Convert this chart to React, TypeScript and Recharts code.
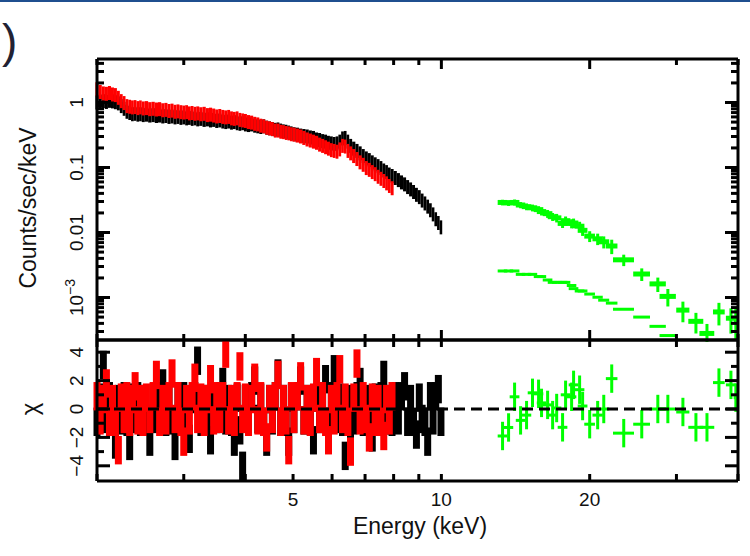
import React from "react";
import { ComposedChart, Scatter, XAxis, YAxis, ErrorBar, ReferenceLine } from "recharts";

const FONT = '"Liberation Sans", Arial, Helvetica, sans-serif';

// energy grid (keV) shared by the two soft-band cameras
const softEnergy = [
  2.0, 2.03, 2.06, 2.09, 2.12, 2.15, 2.18, 2.21, 2.24, 2.27, 2.3, 2.33, 2.36, 2.39, 2.42, 2.45, 2.48,
  2.52, 2.56, 2.6, 2.64, 2.68, 2.72, 2.76, 2.8, 2.84, 2.88, 2.92, 2.96, 3.0, 3.04, 3.08, 3.12, 3.16, 3.2,
  3.25, 3.3, 3.35, 3.4, 3.45, 3.5, 3.55, 3.6, 3.65, 3.7, 3.75, 3.8, 3.85, 3.9, 3.95, 4.0,
  4.06, 4.12, 4.18, 4.24, 4.3, 4.36, 4.42, 4.48, 4.54, 4.6, 4.66, 4.72, 4.78, 4.84, 4.9, 4.96, 5.02,
  5.1, 5.18, 5.26, 5.34, 5.42, 5.5, 5.58, 5.66, 5.74, 5.82, 5.9, 5.98, 6.06, 6.14, 6.22, 6.3, 6.38, 6.46, 6.54,
  6.64, 6.74, 6.84, 6.94, 7.04, 7.14, 7.24, 7.34, 7.44, 7.54, 7.64, 7.74, 7.84, 7.94,
  8.06, 8.18, 8.3, 8.42, 8.54, 8.66, 8.78, 8.9, 9.02, 9.14, 9.26, 9.38, 9.5, 9.62, 9.74, 9.86, 9.98,
];

// black spectrum, counts/sec/keV
const pnCounts = [
  1.0, 1.03, 1.05, 1.02, 1.06, 1.04, 1.01, 0.97, 0.88, 0.8, 0.72, 0.69, 0.66, 0.67, 0.65, 0.66, 0.64,
  0.65, 0.63, 0.64, 0.62, 0.63, 0.61, 0.62, 0.6, 0.61, 0.59, 0.6, 0.58, 0.59, 0.57, 0.58, 0.56, 0.57, 0.55,
  0.56, 0.54, 0.55, 0.53, 0.54, 0.52, 0.53, 0.51, 0.5, 0.51, 0.49, 0.5, 0.48, 0.47, 0.48, 0.46,
  0.45, 0.46, 0.44, 0.43, 0.42, 0.43, 0.41, 0.4, 0.39, 0.38, 0.385, 0.37, 0.36, 0.355, 0.345, 0.335, 0.325,
  0.32, 0.31, 0.305, 0.3, 0.29, 0.285, 0.27, 0.265, 0.255, 0.25, 0.24, 0.235, 0.23, 0.235, 0.25, 0.28, 0.285, 0.25, 0.215,
  0.195, 0.18, 0.165, 0.15, 0.138, 0.13, 0.12, 0.112, 0.105, 0.098, 0.09, 0.085, 0.078, 0.074,
  0.069, 0.064, 0.059, 0.055, 0.05, 0.046, 0.042, 0.038, 0.035, 0.031, 0.028, 0.025, 0.022, 0.019, 0.016, 0.014, 0.012,
];
const pnChi = [
  -0.9, 0.8, 3.1, -0.7, 0.9, -0.9, -2.5, 0.7, -0.8, 0.9, -0.9, -2.6, 0.8, -0.7, 0.9, -0.9, 0.7,
  -0.9, -2.3, 0.8, -0.7, 0.9, 1.8, -0.9, 0.7, -0.8, -2.6, 0.9, -0.7, 0.9, -0.9, -2.1, 0.7, 0.9, 3.4,
  -0.9, 0.7, -0.9, -2.2, 0.8, -0.7, 0.9, 1.9, -0.8, 0.7, -0.9, -2.3, 0.8, -1.5, -4.0, 0.7,
  -0.9, 0.9, 2.0, -0.7, 0.8, -0.9, -2.3, 0.7, -0.8, 0.9, 2.5, -0.9, 0.7, -0.9, -2.3, 0.8, -0.7,
  0.9, 2.0, -0.8, 0.7, -0.9, -2.2, 0.8, -0.7, 0.9, 2.1, -0.9, 0.9, 2.8, -0.7, 0.8, -0.9, -3.3, 0.7, -2.6,
  -0.8, 0.9, 1.9, -0.9, 0.7, -0.9, -2.0, 0.8, -0.7, 0.9, 2.4, -0.8, 0.7, -0.9,
  0.9, -0.8, 0.9, 1.6, -0.9, 0.7, -0.9, -1.8, 0.8, -0.7, -0.9, -2.3, 0.9, -0.8, 0.9, 1.4, -0.9,
];

// red spectrum (stops near 8 keV)
const mosCounts = [
  1.6, 1.45, 1.38, 1.36, 1.4, 1.33, 1.3, 1.18, 1.05, 0.98, 0.88, 0.86, 0.84, 0.85, 0.82, 0.84, 0.81,
  0.82, 0.79, 0.8, 0.78, 0.79, 0.76, 0.77, 0.74, 0.75, 0.72, 0.73, 0.71, 0.7, 0.71, 0.68, 0.69, 0.67, 0.68,
  0.66, 0.67, 0.64, 0.65, 0.63, 0.61, 0.62, 0.6, 0.59, 0.6, 0.57, 0.56, 0.57, 0.54, 0.53, 0.52,
  0.5, 0.49, 0.47, 0.46, 0.44, 0.43, 0.41, 0.4, 0.39, 0.37, 0.37, 0.355, 0.35, 0.34, 0.335, 0.325, 0.32,
  0.31, 0.3, 0.285, 0.27, 0.26, 0.25, 0.24, 0.225, 0.215, 0.205, 0.195, 0.185, 0.18, 0.175, 0.19, 0.215, 0.21, 0.18, 0.165,
  0.15, 0.135, 0.12, 0.11, 0.098, 0.092, 0.085, 0.079, 0.072, 0.067, 0.062, 0.057, 0.052, 0.048,
];
const mosChi = [
  0.9, -0.8, 0.7, 1.8, -0.9, 0.7, -0.9, -2.9, 0.8, -0.7, 0.9, -0.9, 0.7, 1.6, -0.8, 0.7, -0.9,
  0.8, -0.7, 0.9, 2.4, -0.9, 0.7, -0.8, 0.9, 2.5, -0.7, 0.9, -0.9, -2.3, 0.7, -0.8, 0.9, 2.2, -0.7,
  0.8, -0.9, 0.7, 2.1, -0.8, 0.9, -0.7, 0.9, 3.9, -0.8, 0.7, -0.9, 0.9, 3.0, -0.7, 0.8,
  -0.9, 0.7, 2.2, -0.8, 0.9, -0.9, -2.0, 0.7, -0.7, 0.9, 2.4, -0.9, 0.7, -0.8, -2.9, 0.9, -0.7,
  0.9, 2.3, -0.8, 0.7, -0.9, 0.8, 2.6, -0.7, 0.9, -0.9, -2.2, 0.7, -0.8, 0.9, 2.8, -0.7, 0.8, -0.9, -3.0,
  0.8, 3.2, -0.8, 0.9, -0.7, -2.0, 0.8, -0.9, 0.7, -0.9, -1.9, 0.7, -0.8, 0.9,
];

// green hard-band spectrum: bin centres and half-widths (keV)
const hardEnergy = [
  13.31, 13.69, 14.08, 14.48, 14.89, 15.31, 15.75, 15.97, 16.43, 16.82, 17.14, 17.62, 17.87, 18.38, 18.55, 19.08,
  19.35, 20.0, 20.76, 21.36, 22.17, 23.45, 25.51, 27.5, 28.82, 30.92, 32.86, 34.6, 36.59, 38.7, 39.6,
];
const hardHalfWidth = [
  0.3, 0.3, 0.32, 0.32, 0.33, 0.34, 0.35, 0.35, 0.37, 0.38, 0.38, 0.4, 0.4, 0.41, 0.42, 0.43,
  0.44, 0.5, 0.5, 0.55, 0.6, 1.15, 1.0, 1.05, 1.1, 0.95, 1.15, 1.2, 1.0, 0.9, 0.4,
];
const hardCounts = [
  0.029, 0.0285, 0.029, 0.0265, 0.025, 0.024, 0.0225, 0.021, 0.0195, 0.0175, 0.0168, 0.0138, 0.0152, 0.0138, 0.014, 0.0125,
  0.0108, 0.0088, 0.008, 0.0072, 0.0062, 0.0038, 0.0023, 0.00162, 0.00104, 0.00064, 0.00043, 0.00028, 0.0006, 0.00048, 0.00045,
];
const hardErr = [
  0.1, 0.1, 0.11, 0.11, 0.12, 0.12, 0.13, 0.13, 0.14, 0.14, 0.15, 0.15, 0.16, 0.16, 0.17, 0.17,
  0.18, 0.19, 0.2, 0.21, 0.25, 0.2, 0.22, 0.25, 0.3, 0.35, 0.35, 0.4, 0.38, 0.42, 0.5,
];
const hardChi = [
  -1.9, -1.3, 0.86, -0.8, -0.43, 1.14, 1.07, 0.43, 0.29, -0.43, 0.07, -1.29, 1.0, 0.86, 1.7, 1.36,
  0.21, -1.07, -0.43, 0.0, 2.14, -1.7, -1.07, 0.0, 0.0, -0.21, -1.29, -1.29, 1.86, 1.7, 0.8,
];
// lower green curve (model component), first 25 hard bins
const hardModel = [
  0.00256, 0.00256, 0.00256, 0.00227, 0.00227, 0.00227, 0.0021, 0.0021, 0.00186, 0.00171, 0.00171, 0.00171, 0.00171,
  0.00153, 0.00137, 0.00126, 0.00126, 0.00113, 0.00101, 0.00091, 0.00082, 0.00066, 0.0005, 0.00036, 0.00026,
];

const energyTicks = [2, 3, 4, 5, 6, 7, 8, 9, 10, 20, 30, 40];
const energyLabels = [5, 10, 20];
const countTicks = [
  3e-4, 4e-4, 5e-4, 6e-4, 7e-4, 8e-4, 9e-4, 1e-3, 2e-3, 3e-3, 4e-3, 5e-3, 6e-3, 7e-3, 8e-3, 9e-3,
  0.01, 0.02, 0.03, 0.04, 0.05, 0.06, 0.07, 0.08, 0.09, 0.1, 0.2, 0.3, 0.4, 0.5, 0.6, 0.7, 0.8, 0.9, 1, 2, 3, 4,
];
const countLabels = [1e-3, 0.01, 0.1, 1];
const chiTicks = [-4, -3, -2, -1, 0, 1, 2, 3, 4];
const chiLabels = [-4, -2, 0, 2, 4];

type Bin = { e: number; v: number; xe: [number, number]; ye?: [number, number] };

// soft bins: edges half-way to the neighbouring channels
function toBins(energy: number[], values: number[]): Bin[] {
  return values.map((v, i) => {
    const e = energy[i];
    const prev = i > 0 ? energy[i - 1] : 2 * e - energy[i + 1];
    const next = i + 1 < energy.length ? energy[i + 1] : 2 * e - energy[i - 1];
    return { e, v, xe: [(e - prev) / 2, (next - e) / 2] };
  });
}
// hard bins: explicit half-widths
function toHardBins(values: number[]): Bin[] {
  return values.map((v, i) => ({ e: hardEnergy[i], v, xe: [hardHalfWidth[i], hardHalfWidth[i]] }));
}

const pnTop = toBins(softEnergy, pnCounts);
const mosTop = toBins(softEnergy, mosCounts);
const hardTop = toHardBins(hardCounts).map((b, i) => ({
  ...b,
  ye: [b.v * hardErr[i], b.v * hardErr[i]] as [number, number],
}));
const hardModelBins = toHardBins(hardModel);
const withUnitErr = (bins: Bin[]) => bins.map((b) => ({ ...b, ye: [1, 1] as [number, number] }));
const pnRes = withUnitErr(toBins(softEnergy, pnChi));
const mosRes = withUnitErr(toBins(softEnergy, mosChi));
const hardRes = withUnitErr(toHardBins(hardChi));

const noDot = () => <g />;

function xTick(dir: number, majors: number[], majorLen: number, minorLen: number, labels: number[] = []) {
  return (p: any) => {
    const v = p.payload.value;
    const len = majors.includes(v) ? majorLen : minorLen;
    return (
      <g>
        <line x1={p.x} x2={p.x} y1={p.y} y2={p.y + dir * len} stroke="#000" strokeWidth={3} />
        {labels.includes(v) && (
          <text x={p.x} y={p.y + 25} textAnchor="middle" fontSize={19} fontFamily={FONT} fill="#111">
            {v}
          </text>
        )}
      </g>
    );
  };
}

function yTick(
  dir: number,
  majors: number[],
  majorLen: number,
  minorLen: number,
  labels: number[] = [],
  fmt: (v: number) => React.ReactNode = (v) => String(v)
) {
  return (p: any) => {
    const v = p.payload.value;
    const len = majors.includes(v) ? majorLen : minorLen;
    const lx = p.x - 14;
    return (
      <g>
        <line x1={p.x} x2={p.x + dir * len} y1={p.y} y2={p.y} stroke="#000" strokeWidth={3} />
        {labels.includes(v) && (
          <text
            x={lx}
            y={p.y}
            transform={`rotate(-90 ${lx} ${p.y})`}
            textAnchor="middle"
            fontSize={19}
            fontFamily={FONT}
            fill="#111"
          >
            {fmt(v)}
          </text>
        )}
      </g>
    );
  };
}

const countFmt = (v: number) =>
  v === 1e-3 ? (
    <>
      10<tspan dy={-8} fontSize={14}>−3</tspan>
    </>
  ) : (
    String(v)
  );
const chiFmt = (v: number) => (v < 0 ? `−${-v}` : String(v));

const frame = { stroke: "#000", strokeWidth: 3 };
const countDomain = [2.22e-4, 4.67];
const chiDomain = [-5.07, 4.86];

export default function App() {
  return (
    <div style={{ position: "absolute", left: 0, top: 0, width: 750, height: 556, background: "#fff", overflow: "hidden" }}>
      <div style={{ position: "absolute", left: 0, top: 0, width: 750, height: 2, background: "#1f4f8f" }} />

      <div style={{ position: "absolute", left: 0, top: 0 }}>
        <ComposedChart width={750} height={342} margin={{ top: 58, right: 11, bottom: 1, left: 96 }}>
          <XAxis xAxisId="b" orientation="bottom" type="number" dataKey="e" scale="log" domain={[2, 40]}
            allowDataOverflow ticks={energyTicks} interval={0} height={1} tickSize={0} tickMargin={0}
            tickLine={false} axisLine={frame} tick={xTick(-1, [10, 20], 10, 6)} />
          <XAxis xAxisId="t" orientation="top" type="number" dataKey="e" scale="log" domain={[2, 40]}
            allowDataOverflow ticks={energyTicks} interval={0} height={1} tickSize={0} tickMargin={0}
            tickLine={false} axisLine={frame} tick={xTick(1, [10, 20], 10, 6)} />
          <YAxis yAxisId="l" orientation="left" type="number" dataKey="v" scale="log" domain={countDomain}
            allowDataOverflow ticks={countTicks} interval={0} width={1} tickSize={0} tickMargin={0}
            tickLine={false} axisLine={frame} tick={yTick(1, countLabels, 13, 7, countLabels, countFmt)} />
          <YAxis yAxisId="r" orientation="right" type="number" dataKey="v" scale="log" domain={countDomain}
            allowDataOverflow ticks={countTicks} interval={0} width={1} tickSize={0} tickMargin={0}
            tickLine={false} axisLine={frame} tick={yTick(-1, countLabels, 13, 7)} />

          <Scatter data={pnTop} xAxisId="b" yAxisId="l" shape={noDot} isAnimationActive={false}>
            <ErrorBar dataKey="xe" direction="x" width={0} stroke="#000" strokeWidth={14} isAnimationActive={false} />
          </Scatter>
          <Scatter data={mosTop} xAxisId="b" yAxisId="l" shape={noDot} isAnimationActive={false}>
            <ErrorBar dataKey="xe" direction="x" width={0} stroke="#ff0000" strokeWidth={14} isAnimationActive={false} />
          </Scatter>
          <Scatter data={hardModelBins} xAxisId="b" yAxisId="l" shape={noDot} isAnimationActive={false}>
            <ErrorBar dataKey="xe" direction="x" width={0} stroke="#00ff00" strokeWidth={3} isAnimationActive={false} />
          </Scatter>
          <Scatter data={hardTop} xAxisId="b" yAxisId="l" shape={noDot} isAnimationActive={false}>
            <ErrorBar dataKey="xe" direction="x" width={0} stroke="#00ff00" strokeWidth={5} isAnimationActive={false} />
            <ErrorBar dataKey="ye" direction="y" width={0} stroke="#00ff00" strokeWidth={3} isAnimationActive={false} />
          </Scatter>
        </ComposedChart>
      </div>

      <div style={{ position: "absolute", left: 0, top: 0 }}>
        <ComposedChart width={750} height={556} margin={{ top: 339, right: 11, bottom: 74, left: 96 }}>
          <XAxis xAxisId="b" orientation="bottom" type="number" dataKey="e" scale="log" domain={[2, 40]}
            allowDataOverflow ticks={energyTicks} interval={0} height={1} tickSize={0} tickMargin={0}
            tickLine={false} axisLine={frame} tick={xTick(-1, [], 7, 7, energyLabels)} />
          <XAxis xAxisId="t" orientation="top" type="number" dataKey="e" scale="log" domain={[2, 40]}
            allowDataOverflow ticks={energyTicks} interval={0} height={1} tickSize={0} tickMargin={0}
            tickLine={false} axisLine={frame} tick={xTick(1, [], 7, 7)} />
          <YAxis yAxisId="l" orientation="left" type="number" dataKey="v" domain={chiDomain}
            allowDataOverflow ticks={chiTicks} interval={0} width={1} tickSize={0} tickMargin={0}
            tickLine={false} axisLine={frame} tick={yTick(1, chiLabels, 13, 7, chiLabels, chiFmt)} />
          <YAxis yAxisId="r" orientation="right" type="number" dataKey="v" domain={chiDomain}
            allowDataOverflow ticks={chiTicks} interval={0} width={1} tickSize={0} tickMargin={0}
            tickLine={false} axisLine={frame} tick={yTick(-1, chiLabels, 13, 7)} />

          <Scatter data={pnRes} xAxisId="b" yAxisId="l" shape={noDot} isAnimationActive={false}>
            <ErrorBar dataKey="xe" direction="x" width={0} stroke="#000" strokeWidth={3} isAnimationActive={false} />
            <ErrorBar dataKey="ye" direction="y" width={0} stroke="#000" strokeWidth={7} isAnimationActive={false} />
          </Scatter>
          <Scatter data={mosRes} xAxisId="b" yAxisId="l" shape={noDot} isAnimationActive={false}>
            <ErrorBar dataKey="xe" direction="x" width={0} stroke="#ff0000" strokeWidth={3} isAnimationActive={false} />
            <ErrorBar dataKey="ye" direction="y" width={0} stroke="#ff0000" strokeWidth={7} isAnimationActive={false} />
          </Scatter>
          <Scatter data={hardRes} xAxisId="b" yAxisId="l" shape={noDot} isAnimationActive={false}>
            <ErrorBar dataKey="xe" direction="x" width={0} stroke="#00ff00" strokeWidth={3} isAnimationActive={false} />
            <ErrorBar dataKey="ye" direction="y" width={0} stroke="#00ff00" strokeWidth={3} isAnimationActive={false} />
          </Scatter>
          <ReferenceLine y={0} xAxisId="b" yAxisId="l" stroke="#000" strokeWidth={3} strokeDasharray="11 6" />
        </ComposedChart>
      </div>

      <svg width={750} height={556} style={{ position: "absolute", left: 0, top: 0, pointerEvents: "none" }}>
        <text x={2} y={57} fontSize={46} fontFamily={FONT} fill="#223">)</text>
        <text x={36} y={208} transform="rotate(-90 36 208)" textAnchor="middle" fontSize={23} fontFamily={FONT} fill="#111">
          Counts/sec/keV
        </text>
        <text x={38} y={409} transform="rotate(-90 38 409)" textAnchor="middle" fontSize={24} fontFamily={FONT} fill="#111">
          χ
        </text>
        <text x={420} y={534} textAnchor="middle" fontSize={23} fontFamily={FONT} fill="#111">
          Energy (keV)
        </text>
      </svg>
    </div>
  );
}
